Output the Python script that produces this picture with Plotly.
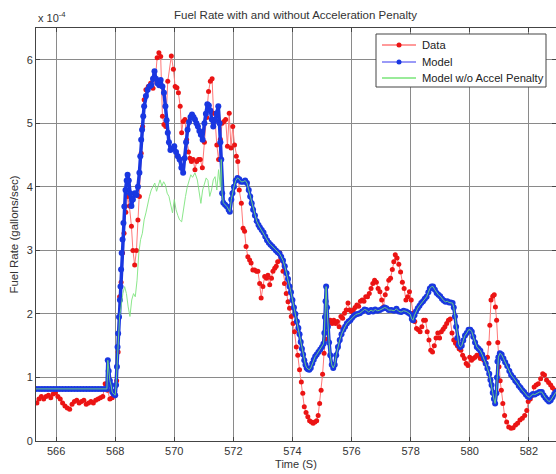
import plotly.graph_objects as go

# ---------------- data (fuel rate in units of 1e-4 gallons/sec) ----------------
data_t = [565.35,565.42,565.50,565.58,565.66,565.74,565.82,565.90,565.98,566.06,566.14,566.22,566.30,566.38,566.46,
          566.54,566.62,566.70,566.78,566.86,566.94,567.02,567.10,567.18,567.26,567.34,567.42,567.50,567.58,567.66,
          567.74,567.82,567.90,567.98,568.05,568.10,568.15,568.20,568.25,568.30,568.36,568.42,568.48,568.55,568.60,
          568.66,568.72,568.77,568.82,568.88,568.93,568.98,569.04,569.12,569.20,569.28,569.36,569.42,569.48,569.54,
          569.60,569.65,569.71,569.78,569.90,569.97,570.03,570.09,570.14,570.20,570.25,570.30,570.36,570.42,570.48,
          570.53,570.58,570.64,570.70,570.76,570.82,570.88,570.95,571.02,571.10,571.16,571.22,571.28,571.33,571.38,
          571.44,571.50,571.56,571.62,571.68,571.74,571.80,571.86,571.92,571.98,572.04,572.10,572.15,572.20,572.27,
          572.33,572.38,572.43,572.49,572.55,572.60,572.66,572.72,572.78,572.83,572.89,572.94,573.00,573.06,573.12,
          573.17,573.23,573.29,573.34,573.40,573.45,573.50,573.57,573.62,573.68,573.73,573.79,573.85,573.90,573.96,
          574.02,574.07,574.13,574.18,574.24,574.30,574.35,574.40,574.46,574.52,574.58,574.64,574.70,574.76,574.82,
          574.87,574.92,574.97,575.02,575.07,575.12,575.17,575.22,575.28,575.34,575.40,575.46,575.52,575.58,575.64,
          575.70,575.76,575.82,575.88,575.94,576.00,576.06,576.12,576.18,576.24,576.30,576.36,576.42,576.48,576.54,
          576.60,576.66,576.72,576.78,576.84,576.90,576.96,577.02,577.08,577.14,577.20,577.26,577.32,577.38,577.43,
          577.48,577.54,577.60,577.66,577.72,577.78,577.84,577.90,577.96,578.02,578.08,578.14,578.20,578.26,578.32,
          578.38,578.44,578.50,578.56,578.62,578.68,578.74,578.80,578.86,578.92,578.98,579.04,579.10,579.16,579.22,
          579.28,579.34,579.40,579.46,579.52,579.58,579.64,579.70,579.76,579.82,579.88,579.94,580.00,580.06,580.12,
          580.18,580.24,580.30,580.36,580.42,580.48,580.54,580.60,580.65,580.68,580.72,580.78,580.83,580.87,580.91,
          580.95,580.99,581.03,581.07,581.12,581.18,581.25,581.32,581.40,581.47,581.55,581.62,581.70,581.78,581.86,
          581.93,581.98,582.05,582.12,582.18,582.25,582.32,582.40,582.47,582.53,582.60,582.67,582.74,582.80,582.88,
          582.95]
data_v = [0.60,0.66,0.70,0.66,0.70,0.72,0.68,0.74,0.76,0.70,0.66,0.60,0.55,0.52,0.50,
          0.58,0.62,0.64,0.60,0.62,0.64,0.58,0.60,0.62,0.60,0.64,0.66,0.68,0.70,0.90,
          0.80,0.66,0.68,0.78,0.95,1.40,2.27,2.50,2.96,3.27,3.60,3.85,3.70,3.38,3.00,
          2.77,3.00,3.48,3.85,4.53,4.95,5.37,5.53,5.58,5.63,5.55,5.70,6.03,6.11,6.05,
          5.11,4.98,4.95,5.66,6.06,5.85,5.58,5.56,5.48,5.27,4.85,5.03,5.06,4.74,4.55,
          4.45,4.40,4.43,4.27,4.40,4.43,4.43,4.30,4.70,5.09,5.50,5.66,5.70,5.16,5.06,
          4.66,4.43,4.75,5.00,5.03,5.06,4.64,5.16,4.61,4.95,4.66,4.48,4.40,3.95,3.74,
          3.35,3.30,3.06,2.90,2.85,2.80,2.69,2.69,2.67,2.67,2.48,2.25,2.43,2.59,2.56,
          2.61,2.46,2.56,2.67,2.72,2.75,2.82,2.96,2.85,2.67,2.48,2.32,2.19,2.09,1.96,
          1.85,1.72,1.48,1.35,1.12,0.93,0.75,0.54,0.45,0.38,0.32,0.30,0.28,0.30,0.32,
          0.40,0.59,0.80,1.05,1.38,1.60,1.80,1.88,1.90,1.85,1.90,1.85,1.88,1.80,1.96,
          1.93,2.01,2.06,2.17,2.06,2.04,2.06,2.10,2.14,2.12,2.20,2.22,2.20,2.27,2.27,
          2.32,2.40,2.48,2.53,2.50,2.40,2.35,2.22,2.11,2.30,2.40,2.53,2.56,2.70,2.82,
          2.93,2.88,2.78,2.66,2.50,2.40,2.22,2.27,2.35,2.22,2.01,1.88,1.77,1.75,1.72,
          1.80,1.90,1.90,1.72,1.59,1.43,1.40,1.50,1.62,1.70,1.62,1.72,1.76,1.80,1.85,
          1.90,1.92,1.70,1.59,1.54,1.50,1.45,1.43,1.35,1.30,1.22,1.19,1.32,1.27,1.30,
          1.32,1.35,1.35,1.30,1.35,1.27,1.22,1.32,1.54,1.82,2.22,2.28,2.30,2.11,1.90,
          1.55,1.17,0.95,0.80,0.59,0.40,0.30,0.22,0.20,0.21,0.25,0.28,0.33,0.36,0.40,
          0.48,0.62,0.66,0.72,0.85,0.88,0.90,0.98,1.06,1.04,0.96,0.92,0.88,0.84,0.80,
          0.76]

model_t = [565.32,565.42,565.52,565.62,565.72,565.82,565.92,566.02,566.12,566.22,566.32,566.42,566.52,566.62,566.72,
           566.82,566.92,567.02,567.12,567.22,567.32,567.42,567.52,567.62,567.72,567.75,567.78,567.82,567.86,567.90,
           567.95,568.00,568.03,568.06,568.08,568.10,568.13,568.16,568.18,568.20,568.22,568.25,568.28,568.31,568.35,
           568.39,568.42,568.46,568.50,568.55,568.60,568.66,568.72,568.77,568.82,568.85,568.88,568.91,568.95,568.98,
           569.04,569.10,569.16,569.22,569.28,569.33,569.38,569.43,569.49,569.54,569.60,569.65,569.70,569.74,569.78,
           569.82,569.87,569.93,570.00,570.06,570.12,570.18,570.24,570.30,570.35,570.40,570.45,570.50,570.55,570.60,
           570.65,570.70,570.75,570.80,570.85,570.90,570.96,571.02,571.07,571.12,571.17,571.22,571.27,571.32,571.38,
           571.44,571.49,571.53,571.56,571.59,571.62,571.66,571.72,571.78,571.84,571.88,571.93,571.97,572.02,572.08,
           572.14,572.20,572.26,572.33,572.40,572.46,572.52,572.57,572.62,572.67,572.73,572.79,572.85,572.90,572.96,
           573.02,573.08,573.14,573.20,573.26,573.32,573.38,573.44,573.50,573.56,573.62,573.68,573.74,573.80,573.85,
           573.90,573.95,574.00,574.05,574.10,574.15,574.20,574.24,574.28,574.32,574.36,574.40,574.44,574.48,574.52,
           574.57,574.62,574.67,574.72,574.77,574.82,574.88,574.94,575.00,575.05,575.08,575.10,575.12,575.14,575.17,
           575.20,575.24,575.28,575.33,575.38,575.43,575.48,575.54,575.60,575.66,575.72,575.78,575.84,575.90,575.96,
           576.02,576.08,576.14,576.20,576.28,576.36,576.44,576.50,576.58,576.66,576.73,576.80,576.88,576.96,577.04,
           577.12,577.18,577.26,577.35,577.44,577.52,577.60,577.68,577.76,577.85,577.92,577.98,578.04,578.08,578.13,
           578.18,578.24,578.30,578.36,578.42,578.48,578.54,578.60,578.65,578.71,578.76,578.82,578.88,578.94,579.00,
           579.06,579.12,579.18,579.24,579.30,579.36,579.42,579.46,579.50,579.54,579.58,579.63,579.68,579.73,579.78,
           579.84,579.90,579.96,580.02,580.07,580.12,580.18,580.24,580.30,580.36,580.42,580.48,580.54,580.60,580.66,
           580.70,580.74,580.78,580.82,580.86,580.90,580.92,580.94,580.97,581.02,581.08,581.14,581.20,581.27,581.34,
           581.40,581.47,581.54,581.60,581.66,581.72,581.78,581.84,581.90,581.96,582.02,582.08,582.14,582.20,582.28,
           582.36,582.44,582.50,582.56,582.62,582.68,582.74,582.80,582.86,582.92]
model_v = [0.82,0.82,0.82,0.82,0.82,0.82,0.82,0.82,0.82,0.82,0.82,0.82,0.82,0.82,0.82,
           0.82,0.82,0.82,0.82,0.82,0.82,0.82,0.82,0.82,0.82,1.27,1.10,0.95,0.88,0.77,
           0.74,0.72,0.88,1.17,1.48,1.69,1.95,2.22,2.43,2.70,2.96,3.17,3.43,3.69,3.95,
           4.10,4.19,4.10,3.90,3.70,3.80,3.90,3.87,4.00,4.22,4.48,4.74,4.90,5.11,5.27,
           5.43,5.53,5.58,5.60,5.70,5.82,5.70,5.63,5.60,5.68,5.58,5.48,5.27,5.05,4.85,
           4.70,4.58,4.60,4.64,4.55,4.48,4.43,4.30,4.22,4.45,4.70,4.90,5.02,5.10,5.14,
           5.10,5.06,5.00,4.95,4.88,4.82,4.74,5.00,5.15,5.30,5.28,5.20,5.06,4.95,5.05,
           5.16,5.27,5.00,4.70,4.43,3.90,3.75,3.72,3.69,3.64,3.61,3.80,3.90,4.00,4.10,
           4.14,4.12,4.08,4.08,4.10,4.06,3.95,3.85,3.74,3.64,3.55,3.46,3.40,3.36,3.32,
           3.28,3.22,3.16,3.12,3.09,3.06,3.03,3.00,2.97,2.95,2.90,2.84,2.75,2.64,2.55,
           2.43,2.34,2.22,2.10,2.00,1.88,1.78,1.68,1.56,1.45,1.36,1.27,1.20,1.15,1.13,
           1.12,1.15,1.22,1.28,1.33,1.36,1.40,1.44,1.48,1.53,1.70,1.95,2.20,2.43,2.10,
           1.80,1.55,1.35,1.20,1.15,1.20,1.35,1.48,1.59,1.68,1.75,1.80,1.85,1.88,1.90,
           1.94,1.97,1.99,2.00,2.01,2.04,2.07,2.06,2.03,2.06,2.04,2.07,2.05,2.06,2.08,
           2.10,2.09,2.06,2.06,2.05,2.08,2.04,2.03,2.05,2.04,2.02,2.00,1.92,1.90,1.98,
           2.04,2.09,2.13,2.17,2.20,2.24,2.27,2.34,2.40,2.43,2.43,2.38,2.33,2.30,2.28,
           2.24,2.21,2.19,2.20,2.18,2.18,2.17,2.10,1.96,1.80,1.62,1.52,1.48,1.50,1.58,
           1.66,1.70,1.75,1.75,1.72,1.64,1.55,1.48,1.45,1.42,1.36,1.30,1.22,1.14,1.06,
           0.96,0.88,0.76,0.66,0.59,0.75,1.00,1.25,1.32,1.38,1.36,1.30,1.24,1.18,1.10,
           1.04,1.00,0.95,0.92,0.87,0.84,0.80,0.77,0.73,0.70,0.69,0.72,0.74,0.73,0.75,
           0.77,0.77,0.72,0.68,0.65,0.62,0.64,0.69,0.74,0.77]

# Model without acceleration penalty: differs from the model only while accelerating
noaccel_window_t = [568.10,568.15,568.20,568.26,568.32,568.38,568.44,568.50,568.56,568.62,568.68,568.74,568.80,568.86,568.92,
                    568.98,569.04,569.10,569.16,569.22,569.28,569.34,569.40,569.46,569.52,569.58,569.64,569.70,569.76,569.82,
                    569.88,569.94,570.00,570.06,570.12,570.18,570.25,570.32,570.38,570.44,570.50,570.56,570.62,570.70,570.78,
                    570.84,570.90,570.96,571.02,571.08,571.14,571.20,571.26,571.32,571.38,571.44,571.50,571.56]
noaccel_window_v = [1.69,1.96,2.11,2.32,2.43,2.32,2.11,1.96,2.22,2.32,2.27,2.53,2.96,3.17,3.27,
                    3.48,3.59,3.74,3.85,3.95,4.01,4.06,3.93,4.01,4.11,4.01,4.08,4.03,3.90,3.85,
                    3.69,3.59,3.80,3.64,3.55,3.48,3.45,3.69,3.85,4.00,4.10,4.19,4.15,4.22,4.11,
                    3.95,3.74,3.95,4.03,4.14,4.10,3.85,3.95,4.11,4.16,3.95,4.27,4.00]

win_start, win_end = noaccel_window_t[0], noaccel_window_t[-1]
noaccel_t = [t for t in model_t if t < win_start] + noaccel_window_t + [t for t in model_t if t > win_end]
noaccel_v = ([v for t, v in zip(model_t, model_v) if t < win_start] + noaccel_window_v
             + [v for t, v in zip(model_t, model_v) if t > win_end])

series_names = ["Data", "Model", "Model w/o Accel Penalty"]
x_ticks = [566, 568, 570, 572, 574, 576, 578, 580, 582]
y_ticks = [0, 1, 2, 3, 4, 5, 6]

FONT = "Liberation Sans, Arial, Helvetica, sans-serif"
RED_LINE, RED_MK = "rgb(255,120,120)", "rgb(235,20,20)"
BLUE_LINE, BLUE_MK = "rgb(120,120,245)", "rgb(25,55,225)"
GREEN = "rgb(120,228,120)"

fig = go.Figure()
fig.add_trace(go.Scatter(x=data_t, y=data_v, name=series_names[0], mode="lines+markers",
                         line=dict(color=RED_LINE, width=1),
                         marker=dict(color=RED_MK, size=5), showlegend=False))
# dense model markers form a solid band
fig.add_trace(go.Scatter(x=model_t, y=model_v, mode="lines", hoverinfo="skip",
                         line=dict(color=BLUE_MK, width=3.5), showlegend=False))
fig.add_trace(go.Scatter(x=model_t, y=model_v, name=series_names[1], mode="markers",
                         marker=dict(color=BLUE_MK, size=6), showlegend=False))
fig.add_trace(go.Scatter(x=noaccel_t, y=noaccel_v, name=series_names[2], mode="lines",
                         line=dict(color=GREEN, width=1), opacity=0.85, showlegend=False))

axis_common = dict(showline=True, linecolor="#444", linewidth=1, mirror="ticks",
                   ticks="inside", ticklen=4, tickcolor="#444",
                   showgrid=True, gridcolor="#8a8a8a", gridwidth=1, zeroline=False,
                   tickfont=dict(family=FONT, size=11, color="#333"))

fig.update_layout(
    width=556, height=474,
    margin=dict(l=36, r=0, t=28, b=33),
    paper_bgcolor="white", plot_bgcolor="white",
    font=dict(family=FONT, size=11, color="#333"),
    title=dict(text="Fuel Rate with and without Acceleration Penalty",
               x=0.5315, xanchor="center", y=0.969, yanchor="middle",
               font=dict(family=FONT, size=11.5, color="#333")),
    xaxis=dict(range=[565.32, 582.92], tickvals=x_ticks,
               title=dict(text="Time (S)", standoff=4, font=dict(family=FONT, size=11, color="#333")),
               **axis_common),
    yaxis=dict(range=[0, 6.5], tickvals=y_ticks,
               title=dict(text="Fuel Rate (gallons/sec)", standoff=5, font=dict(family=FONT, size=11.5, color="#333")),
               **axis_common),
    showlegend=False,
)

fig.add_annotation(text="x 10<sup>-4</sup>", xref="paper", yref="paper", x=0.0, y=1.0,
                   xanchor="left", yanchor="bottom", showarrow=False, yshift=2,
                   font=dict(family=FONT, size=11, color="#333"))

# ---- legend box (MATLAB style), laid out in paper coordinates ----
PL, PW, PT, PH = 36, 520, 28, 413   # plot area left, width, top, height (px)
px = lambda v: (v - PL) / PW
py = lambda v: (PT + PH - v) / PH
fig.add_shape(type="rect", xref="paper", yref="paper", x0=px(376), x1=px(546), y0=py(87), y1=py(34),
              line=dict(color="#444", width=1), fillcolor="white", layer="above")
legend_rows = [(45, RED_LINE, RED_MK), (62, BLUE_LINE, BLUE_MK), (78, GREEN, None)]
for name, (ypix, lc, mc) in zip(series_names, legend_rows):
    fig.add_shape(type="line", xref="paper", yref="paper", x0=px(382), x1=px(416), y0=py(ypix), y1=py(ypix),
                  line=dict(color=lc, width=1.5), layer="above")
    if mc:
        fig.add_shape(type="circle", xref="paper", yref="paper", xsizemode="pixel", ysizemode="pixel",
                      xanchor=px(399), yanchor=py(ypix), x0=-2.5, x1=2.5, y0=-2.5, y1=2.5,
                      fillcolor=mc, line=dict(color=mc, width=0), layer="above")
    fig.add_annotation(text=name, xref="paper", yref="paper", x=px(420), y=py(ypix),
                       xanchor="left", yanchor="middle", showarrow=False,
                       font=dict(family=FONT, size=11.2, color="#222"))

fig.write_html("out.html")
